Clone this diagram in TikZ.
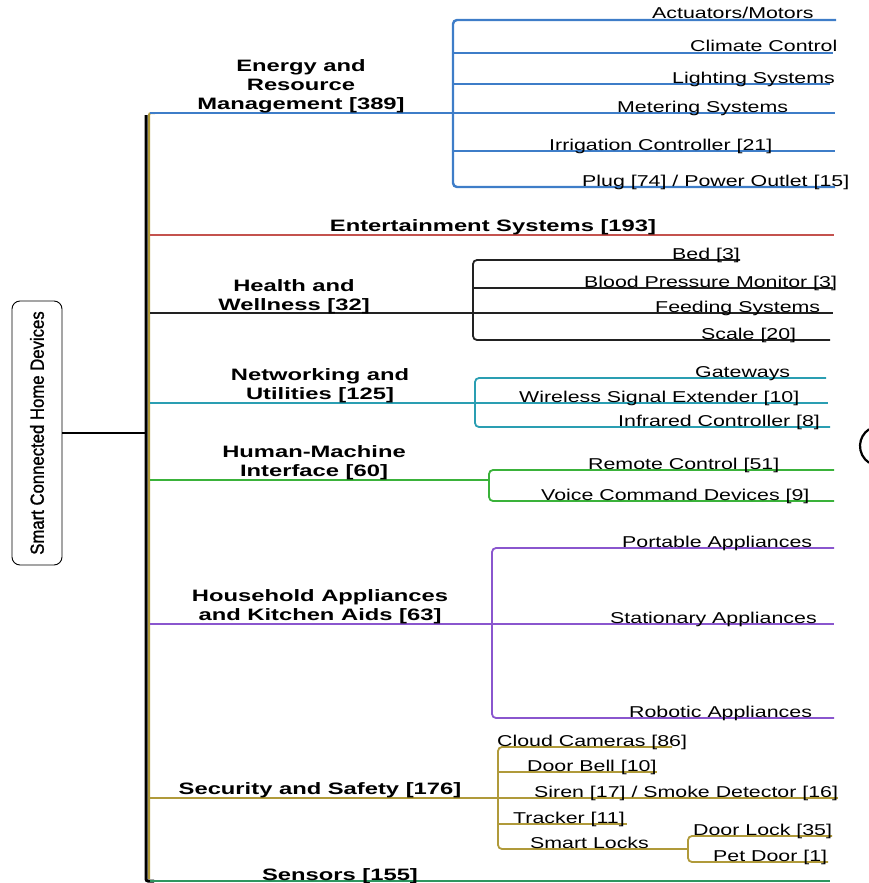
\documentclass[tikz,border=0pt]{standalone}
\usepackage{fontspec}
\usetikzlibrary{calc}
\setmainfont{Liberation Sans}
\newfontfamily\leaffont{Liberation Sans}[FakeStretch=1.36]
\newfontfamily\headfont{Liberation Sans Bold}[FakeStretch=1.44]
\newfontfamily\rootfont{Liberation Sans}[FakeStretch=0.88, FakeBold=1.2]

\definecolor{cEnergy}{RGB}{62,125,200}
\definecolor{cEnt}{RGB}{196,82,78}
\definecolor{cHealth}{RGB}{34,34,34}
\definecolor{cNet}{RGB}{42,158,178}
\definecolor{cHmi}{RGB}{58,178,58}
\definecolor{cHouse}{RGB}{138,86,206}
\definecolor{cSec}{RGB}{176,154,58}
\definecolor{cSens}{RGB}{46,150,96}

\begin{document}
\begin{tikzpicture}[x=1pt,y=-1pt,
  leaf/.style={font=\leaffont\fontsize{15.7}{18}\selectfont, inner sep=0pt, anchor=base west},
  head/.style={font=\headfont\fontsize{16.5}{19}\selectfont, inner sep=0pt, align=center, anchor=base},
  br/.style={line width=1.8pt, rounded corners=4pt},
  energy/.style={br, draw=cEnergy, line width=2.4pt},
  ent/.style={br, draw=cEnt},
  health/.style={br, draw=cHealth},
  net/.style={br, draw=cNet},
  hmi/.style={br, draw=cHmi},
  house/.style={br, draw=cHouse},
  sec/.style={br, draw=cSec},
  sens/.style={br, draw=cSens, line width=2.2pt}
]
\useasboundingbox (0,0) rectangle (869,883);

% ---- root and trunk ----
\node[draw, rounded corners=8pt, line width=0.9pt, minimum width=264pt, minimum height=50pt,
      rotate=90, inner sep=0pt, font=\rootfont\fontsize{19}{21}\selectfont] (root) at (37,433)
      {Smart Connected Home Devices};
\coordinate (tmid) at (146,433);
\coordinate (ttop) at (146,115);
\coordinate (tbot) at (146,881);
\coordinate (gtop) at (149,113);
\coordinate (gbot) at (149,879);
\draw[line width=1.2pt] (root) -- (tmid);
\draw[line width=2pt, cSec, rounded corners=2pt] ($(gtop)+(6,0)$) -- (gtop) -- (gbot);
\draw[line width=3pt, black, rounded corners=2pt] (ttop) -- (tbot) -- ++(8,0);

% ---- Energy and Resource Management ----
\coordinate (eS) at (150,113);
\coordinate (eJ) at (453,113);
\coordinate (e1) at (836,20);
\coordinate (e2) at (833,53);
\coordinate (e3) at (830,84);
\coordinate (e4) at (835,113);
\coordinate (e5) at (835,151);
\coordinate (e6) at (835,187);
\draw[energy] (eS) -- (eJ);
\draw[energy] (e1) -| (eJ) |- (e6);
\draw[energy] (eJ |- e2) -- (e2);
\draw[energy] (eJ |- e3) -- (e3);
\draw[energy] (eJ) -- (e4);
\draw[energy] (eJ |- e5) -- (e5);
\node[head] (hEnergy) at (301,109) {Energy and\\Resource\\Management [389]};
\node[leaf] (lE1) at (652,19) {Actuators/Motors};
\node[leaf] (lE2) at (690,52) {Climate Control};
\node[leaf] (lE3) at (672,83) {Lighting Systems};
\node[leaf] (lE4) at (617,112) {Metering Systems};
\node[leaf] (lE5) at (549,150) {Irrigation Controller [21]};
\node[leaf] (lE6) at (582,186) {Plug [74] / Power Outlet [15]};

% ---- Entertainment Systems ----
\coordinate (nS) at (150,235);
\coordinate (nE) at (834,235);
\draw[ent] (nS) -- (nE);
\node[head] (hEnt) at (493,231) {Entertainment Systems [193]};

% ---- Health and Wellness ----
\coordinate (hS) at (150,313);
\coordinate (hJ) at (473,313);
\coordinate (h1) at (740,260);
\coordinate (h2) at (833,288);
\coordinate (h3) at (833,313);
\coordinate (h4) at (830,340);
\draw[health] (hS) -- (hJ);
\draw[health] (h1) -| (hJ) |- (h4);
\draw[health] (hJ |- h2) -- (h2);
\draw[health] (hJ) -- (h3);
\node[head] (hHealth) at (294,310) {Health and\\Wellness [32]};
\node[leaf] (lH1) at (672,259) {Bed [3]};
\node[leaf] (lH2) at (584,287) {Blood Pressure Monitor [3]};
\node[leaf] (lH3) at (655,312) {Feeding Systems};
\node[leaf] (lH4) at (701,339) {Scale [20]};

% ---- Networking and Utilities ----
\coordinate (wS) at (150,403);
\coordinate (wJ) at (475,403);
\coordinate (w1) at (826,378);
\coordinate (w2) at (828,403);
\coordinate (w3) at (830,427);
\draw[net] (wS) -- (wJ);
\draw[net] (w1) -| (wJ) |- (w3);
\draw[net] (wJ) -- (w2);
\node[head] (hNet) at (320,399) {Networking and\\Utilities [125]};
\node[leaf] (lW1) at (695,377) {Gateways};
\node[leaf] (lW2) at (519,402) {Wireless Signal Extender [10]};
\node[leaf] (lW3) at (618,426) {Infrared Controller [8]};

% ---- Human-Machine Interface ----
\coordinate (mS) at (150,480);
\coordinate (mJ) at (489,480);
\coordinate (m1) at (834,470);
\coordinate (m2) at (834,501);
\draw[hmi] (mS) -- (mJ);
\draw[hmi] (m1) -| (mJ) |- (m2);
\node[head] (hHmi) at (314,476) {Human-Machine\\Interface [60]};
\node[leaf] (lM1) at (588,469) {Remote Control [51]};
\node[leaf] (lM2) at (541,500) {Voice Command Devices [9]};

% ---- Household Appliances and Kitchen Aids ----
\coordinate (aS) at (150,624);
\coordinate (aJ) at (492,624);
\coordinate (a1) at (834,548);
\coordinate (a2) at (834,624);
\coordinate (a3) at (834,718);
\draw[house] (aS) -- (aJ);
\draw[house] (a1) -| (aJ) |- (a3);
\draw[house] (aJ) -- (a2);
\node[head] (hHouse) at (320,620) {Household Appliances\\and Kitchen Aids [63]};
\node[leaf] (lA1) at (622,547) {Portable Appliances};
\node[leaf] (lA2) at (610,623) {Stationary Appliances};
\node[leaf] (lA3) at (629,717) {Robotic Appliances};

% ---- Security and Safety ----
\coordinate (sS) at (150,798);
\coordinate (sJ) at (498,798);
\coordinate (s1) at (672,747);
\coordinate (s2) at (657,772);
\coordinate (s3) at (838,798);
\coordinate (s4) at (627,824);
\coordinate (sL) at (688,849);
\coordinate (l1) at (832,836);
\coordinate (l2) at (828,862);
\draw[sec] (sS) -- (sJ);
\draw[sec] (s1) -| (sJ) |- (sL);
\draw[sec] (sJ |- s2) -- (s2);
\draw[sec] (sJ) -- (s3);
\draw[sec] (sJ |- s4) -- (s4);
\draw[sec] (l1) -| (sL) |- (l2);
\node[head] (hSec) at (320,794) {Security and Safety [176]};
\node[leaf] (lS1) at (497,746) {Cloud Cameras [86]};
\node[leaf] (lS2) at (527,771) {Door Bell [10]};
\node[leaf] (lS3) at (534,797) {Siren [17] / Smoke Detector [16]};
\node[leaf] (lS4) at (513,823) {Tracker [11]};
\node[leaf] (lS5) at (530,848) {Smart Locks};
\node[leaf] (lL1) at (693,835) {Door Lock [35]};
\node[leaf] (lL2) at (713,861) {Pet Door [1]};

% ---- Sensors ----
\coordinate (zS) at (150,881);
\coordinate (zE) at (830,881);
\draw[sens] (zS) -- (zE);
\node[head] (hSens) at (340,880) {Sensors [155]};

% ---- ring at the right edge ----
\draw[line width=2.2pt] (880,446) ++(123:20) arc[start angle=123, end angle=237, radius=20];
\end{tikzpicture}
\end{document}
